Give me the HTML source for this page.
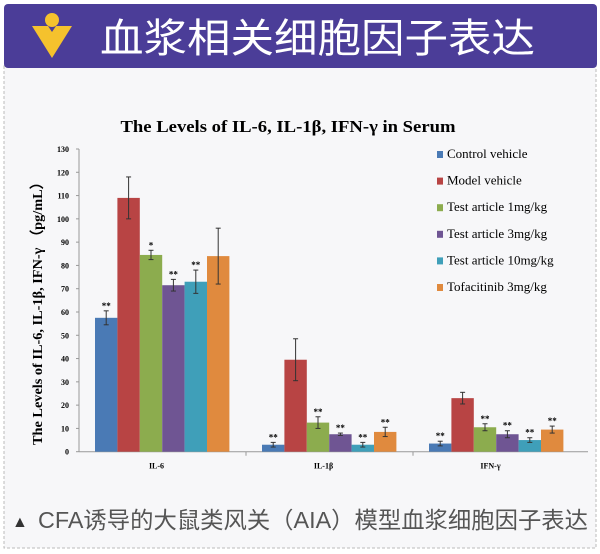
<!DOCTYPE html>
<html><head><meta charset="utf-8"><style>
body{margin:0;width:600px;height:554px;background:#fff;overflow:hidden}
svg{display:block}
</style></head><body>
<svg width="600" height="554" xmlns="http://www.w3.org/2000/svg">
<rect x="4" y="66" width="592" height="482" fill="#f7f7f9" stroke="#bbb" stroke-dasharray="3,2"/>
<rect x="4" y="4" width="593" height="64" rx="4" fill="#4b3d98"/>
<g>
<path d="M32 26 L48 26 L52 32 L56 26 L72 26 L52 58 Z" fill="#f5c22d"/>
<circle cx="52" cy="20" r="7" fill="#f5c22d"/>
</g>
<text x="100" y="52" fill="#fff" font-size="40" textLength="435" lengthAdjust="spacingAndGlyphs" font-family="'Liberation Sans','Noto Sans CJK SC',sans-serif">血浆相关细胞因子表达</text>
<text x="288" y="132" text-anchor="middle" font-size="17" font-weight="bold" textLength="335" lengthAdjust="spacingAndGlyphs" font-family="'Liberation Serif',serif">The Levels of IL-6, IL-1β, IFN-γ in Serum</text>
<text transform="translate(42,310) rotate(-90)" text-anchor="middle" font-size="14" font-weight="bold" textLength="270" lengthAdjust="spacingAndGlyphs" font-family="'Liberation Serif',serif">The Levels of IL-6, IL-1β, IFN-γ （pg/mL）</text>
<g id="chart"></g>
<text x="12" y="527" font-size="16" fill="#333" font-family="'Liberation Sans',sans-serif">▲</text>
<text x="38" y="528" font-size="23" fill="#555" textLength="550" lengthAdjust="spacingAndGlyphs" font-family="'Liberation Sans','Noto Sans CJK SC',sans-serif">CFA诱导的大鼠类风关（AIA）模型血浆细胞因子表达</text>
</svg>
<script>
const categories=["IL-6","IL-1β","IFN-γ"];
const seriesNames=["Control vehicle","Model vehicle","Test article 1mg/kg","Test article 3mg/kg","Test article 10mg/kg","Tofacitinib 3mg/kg"];
const colors=["#4a7ab5","#b84444","#8cac4e","#6f5593","#3f9fb9","#e08a3e"];
const values=[[57.5,3,3.5],[109,39.5,23],[84.5,12.5,10.5],[71.5,7.5,7.5],[73,3,5],[84,8.5,9.5]];
const errors=[[3,1,1],[9,9,2.5],[2,2.5,1.5],[2.5,0.5,1.5],[5,1,1],[12,2,1.5]];
const stars=[["**","**","**"],["","",""],["*","**","**"],["**","**","**"],["**","**","**"],["","**","**"]];
const yTicks=[0,10,20,30,40,50,60,70,80,90,100,110,120,130];
const NS="http://www.w3.org/2000/svg";
const g=document.getElementById('chart');
const x0=79,x1=580,y0=451.7,yTop=149,yMax=130;
const y=v=>y0-(v/yMax)*(y0-yTop);
const catW=(x1-x0)/categories.length;
const barW=22.4;
const bx=(c,s)=>x0+c*catW+16+s*barW;
function el(t,a){const e=document.createElementNS(NS,t);for(const k in a)e.setAttribute(k,a[k]);g.appendChild(e);return e;}
let ax=el('line',{x1:x0,y1:y(0),x2:x0,y2:y(130),stroke:'#999'});


let xa=el('line',{x1:x0,y1:y0,x2:x1+8,y2:y0,stroke:'#999'});


yTicks.forEach(t=>{
 el('line',{x1:x0-3,y1:y(t),x2:x0,y2:y(t),stroke:'#999'});
 const tx=el('text',{x:x0-10,y:y(t)+3,'text-anchor':'end','font-size':'8','font-weight':'bold','font-family':'Liberation Serif, serif'});
 tx.textContent=t;
 
 
});
categories.forEach((c,ci)=>{
 if(ci>0) el('line',{x1:x0+ci*catW,y1:y0,x2:x0+ci*catW,y2:y0+4,stroke:'#999'});
 const tx=el('text',{x:x0+ci*catW+catW/2-6,y:y0+17,'text-anchor':'middle','font-size':'8','font-weight':'bold','font-family':'Liberation Serif, serif'});
 tx.textContent=c;
 
 
 seriesNames.forEach((s,si)=>{
  const v=values[si][ci],e=errors[si][ci],x=bx(ci,si);
  const r=el('rect',{x:x,y:y(v),width:barW,height:y0-y(v),fill:colors[si]});
  
  
  const cx=x+barW/2;
  el('line',{x1:cx,y1:y(v+e),x2:cx,y2:y(v-e),stroke:'#333','stroke-width':1});
  el('line',{x1:cx-2.5,y1:y(v+e),x2:cx+2.5,y2:y(v+e),stroke:'#333'});
  el('line',{x1:cx-2.5,y1:y(v-e),x2:cx+2.5,y2:y(v-e),stroke:'#333'});
  if(stars[si][ci]){
   const st=el('text',{x:cx,y:y(v+e)-2,'text-anchor':'middle','font-size':'9','font-weight':'bold','font-family':'Liberation Serif, serif'});
   st.textContent=stars[si][ci];
   
   
  }
 });
});
seriesNames.forEach((s,si)=>{
 const ly=156+si*26.6;
 const r=el('rect',{x:437,y:ly-5,width:6,height:7,fill:colors[si]});
 
 
 const t=el('text',{x:447,y:ly+2,'font-size':'13','font-family':'Liberation Serif, serif'});
 t.textContent=s;
 
 
});
</script>
</body></html>
